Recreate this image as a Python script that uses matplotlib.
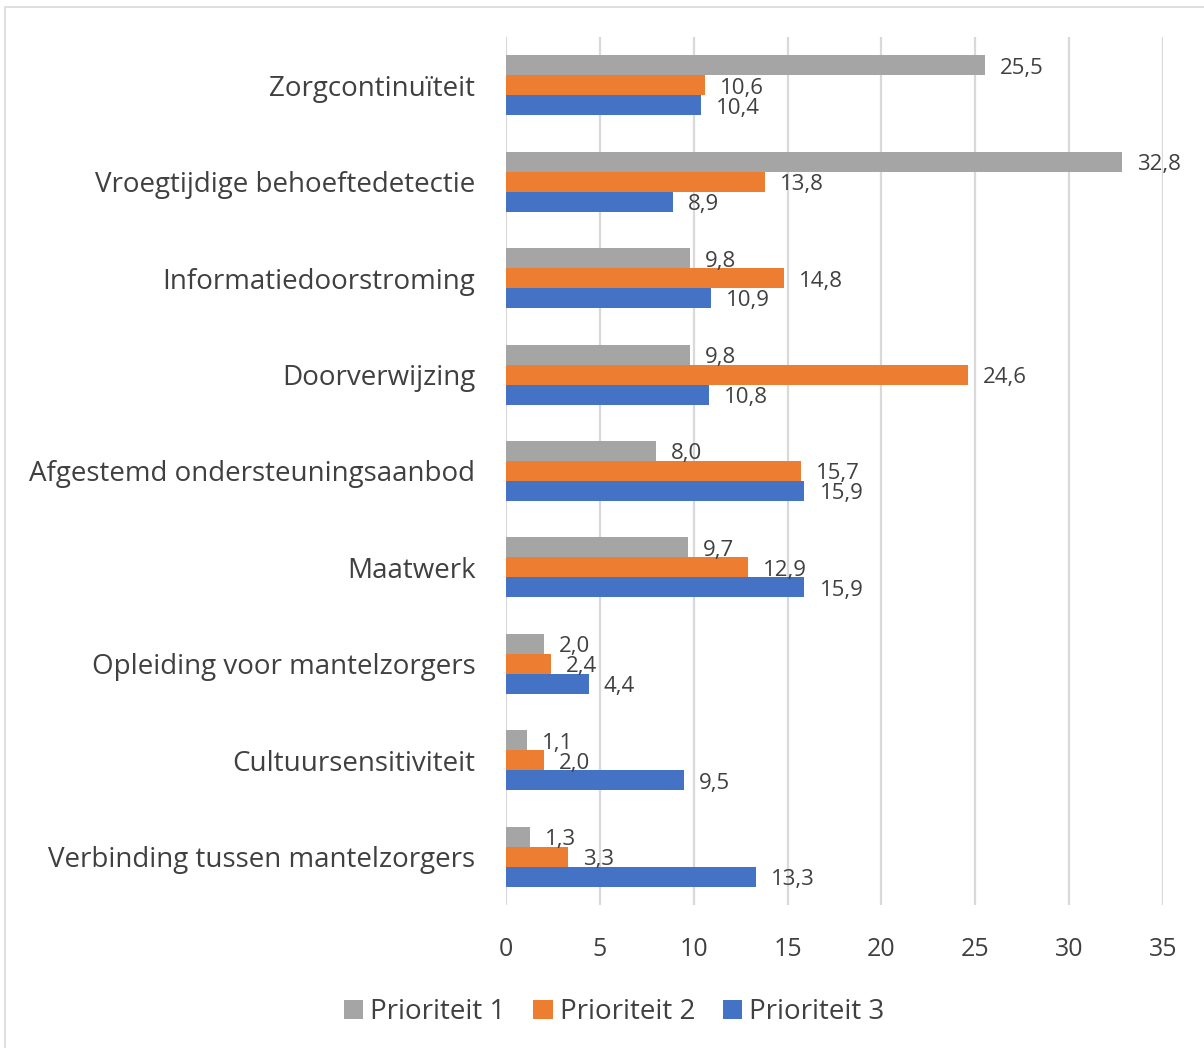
import numpy as np
import matplotlib
matplotlib.use('Agg')
import matplotlib.pyplot as plt
from matplotlib.patches import Rectangle

categories = ['Zorgcontinuïteit', 'Vroegtijdige behoeftedetectie', 'Informatiedoorstroming',
              'Doorverwijzing', 'Afgestemd ondersteuningsaanbod', 'Maatwerk',
              'Opleiding voor mantelzorgers', 'Cultuursensitiviteit',
              'Verbinding tussen mantelzorgers']
prio1 = [25.5, 32.8, 9.8, 9.8, 8.0, 9.7, 2.0, 1.1, 1.3]
prio2 = [10.6, 13.8, 14.8, 24.6, 15.7, 12.9, 2.4, 2.0, 3.3]
prio3 = [10.4, 8.9, 10.9, 10.8, 15.9, 15.9, 4.4, 9.5, 13.3]
series_names = ['Prioriteit 1', 'Prioriteit 2', 'Prioriteit 3']
colors = ['#a5a5a5', '#ed7d31', '#4472c4']
xticks = [0, 5, 10, 15, 20, 25, 30, 35]

plt.rcParams['font.family'] = ['Open Sans', 'DejaVu Sans']

fig = plt.figure(figsize=(12.04, 10.48), dpi=100)
W, H = 1204, 1048
ax = fig.add_axes([506 / W, 1 - 905 / H, (1163 - 506) / W, (905 - 37) / H])

y = np.arange(len(categories))
h = 0.207
for i, (vals, name, c) in enumerate(zip([prio1, prio2, prio3], series_names, colors)):
    pos = y + (i - 1) * h
    ax.barh(pos, vals, height=h, color=c, label=name, zorder=3)
    for p, v in zip(pos, vals):
        ax.text(v + 0.8, p + 0.03, f'{v:.1f}'.replace('.', ','), va='center', ha='left',
                fontsize=16, color='#404040', zorder=4)

ax.set_ylim(len(categories) - 0.5, -0.5)
ax.set_xlim(0, 35)
ax.set_xticks(xticks)
ax.set_xticklabels([str(t) for t in xticks], fontsize=18, color='#404040')
ax.set_yticks(y)
ax.set_yticklabels(categories, fontsize=20, color='#404040')
ax.tick_params(axis='both', length=0)
ax.tick_params(axis='x', pad=23)
ax.tick_params(axis='y', pad=22)
ax.grid(axis='x', color='#d9d9d9', linewidth=1.6, zorder=0)
for s in ax.spines.values():
    s.set_visible(False)

handles, labels = ax.get_legend_handles_labels()
fig.legend(handles, labels, loc='center', bbox_to_anchor=(614 / W, 1 - 1012 / H), ncol=3,
           frameon=False, fontsize=20, handlelength=0.7, handleheight=0.7,
           handletextpad=0.25, columnspacing=1.0, labelcolor='#404040')

fig.patches.append(Rectangle((5 / W, -0.1), 1.2, 1 - 7 / H + 0.1, transform=fig.transFigure,
                             fill=False, edgecolor='#d9d9d9', linewidth=1.2))

fig.savefig('out.png', dpi=100)
